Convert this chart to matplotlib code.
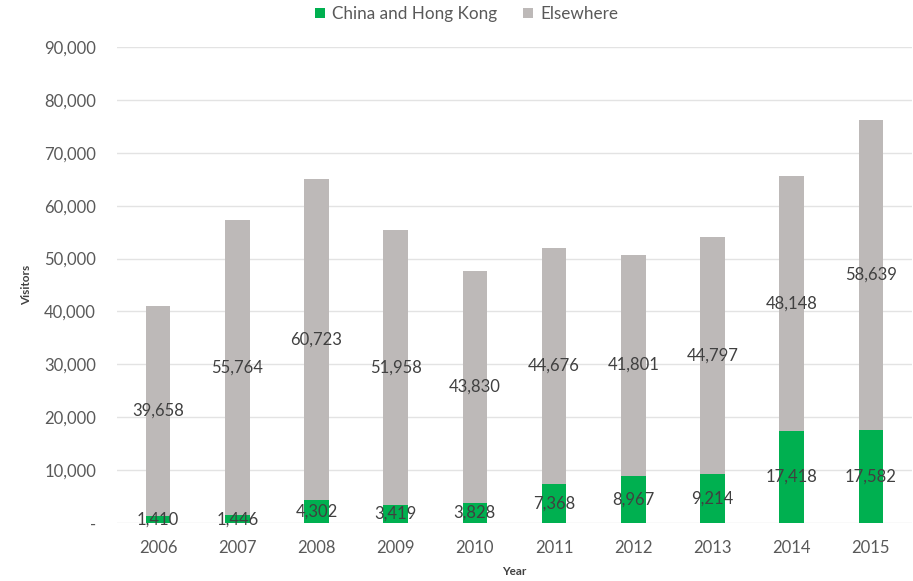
import numpy as np
import matplotlib.pyplot as plt
from matplotlib.ticker import FuncFormatter

years = ['2006', '2007', '2008', '2009', '2010', '2011', '2012', '2013', '2014', '2015']
china_hk = [1410, 1446, 4302, 3419, 3828, 7368, 8967, 9214, 17418, 17582]
elsewhere = [39658, 55764, 60723, 51958, 43830, 44676, 41801, 44797, 48148, 58639]

GREEN = '#00b050'
GREY = '#bdb9b8'

plt.rcParams['font.family'] = ['Lato', 'DejaVu Sans']

fig = plt.figure(figsize=(9.13, 5.81), dpi=100)
ax = fig.add_axes([0.128, 0.0998, 0.871, 0.8193])

x = np.arange(len(years))
width = 0.31
b1 = ax.bar(x, china_hk, width, color=GREEN, label='China and Hong Kong', zorder=2)
b2 = ax.bar(x, elsewhere, width, bottom=china_hk, color=GREY, label='Elsewhere', zorder=2)

for bars in (b1, b2):
    ax.bar_label(bars, labels=[f'{v:,}' for v in bars.datavalues], label_type='center',
                 fontsize=12, color='#404040', zorder=3)

ax.set_xlim(-0.52, len(years) - 0.48)
ax.set_ylim(0, 90000)
ax.set_yticks(np.arange(0, 90001, 10000))
ax.yaxis.set_major_formatter(FuncFormatter(lambda v, p: '-' if v == 0 else f'{int(v):,}'))
ax.set_xticks(x)
ax.set_xticklabels(years)
ax.tick_params(axis='both', length=0, labelsize=12, labelcolor='#595959')
ax.tick_params(axis='y', pad=15)
ax.tick_params(axis='x', pad=12)
ax.grid(axis='y', color='#e3e3e3', linewidth=1, zorder=0)
for s in ax.spines.values():
    s.set_visible(False)

ax.set_ylabel('Visitors', fontsize=8.5, fontweight='bold', color='#404040', va='center')
ax.yaxis.set_label_coords(-0.113, 0.5)
ax.set_xlabel('Year', fontsize=8.5, fontweight='bold', color='#404040', va='center')
ax.xaxis.set_label_coords(0.5, -0.102)

fig.legend(loc='center', bbox_to_anchor=(0.511, 1 - 14 / 581), ncol=2, frameon=False,
           fontsize=12.3, labelcolor='#595959', handlelength=0.6, handleheight=0.6,
           handletextpad=0.4, columnspacing=1.5)

fig.savefig('out.png', dpi=100)
